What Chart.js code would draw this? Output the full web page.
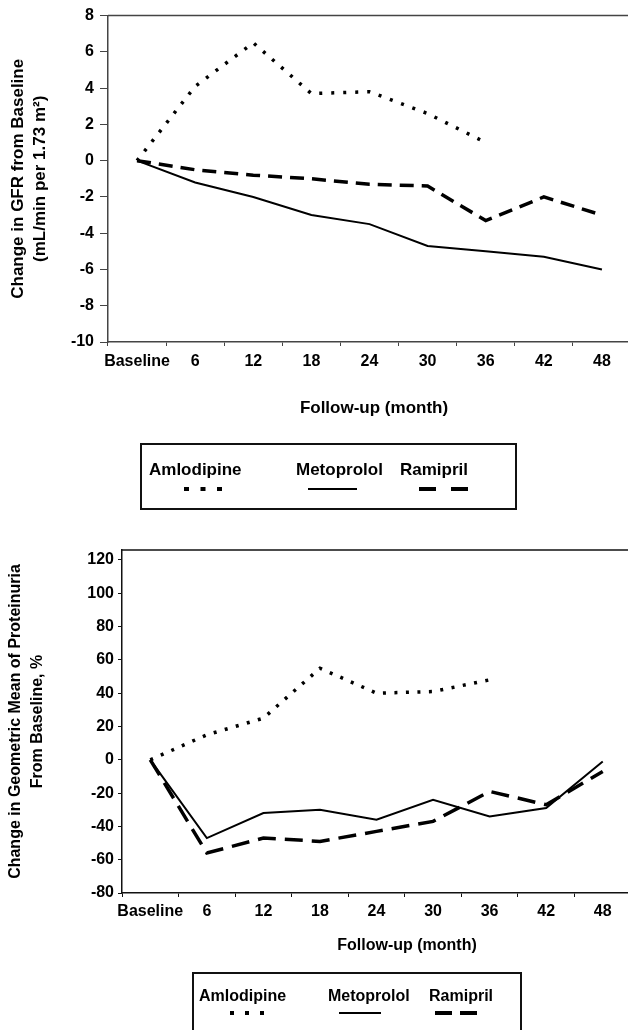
<!DOCTYPE html>
<html>
<head>
<meta charset="utf-8">
<script src="https://cdn.jsdelivr.net/npm/chart.js@4/dist/chart.umd.min.js"></script>
<style>
	html, body { margin: 0; overflow: hidden; }
	body { width: 628px; height: 1030px; position: relative; background: #fff; font-family: "Liberation Sans", Arial, sans-serif; font-weight: bold; color: #000; }
	.wrap { position: absolute; left: 0; }
	.xtitle { position: absolute; transform: translate(-50%, -50%); white-space: nowrap; }
	.box { position: absolute; border: 2px solid #111; box-sizing: border-box; }
	.lg { position: absolute; white-space: nowrap; line-height: 20px; }
	svg { position: absolute; left: 0; top: 0; }
</style>
</head>
<body>
<div class="wrap" style="top:0"><canvas id="gfr" width="640" height="430"></canvas></div>
<div class="xtitle" style="left:374px; top:408px; font-size:17px">Follow-up (month)</div>
<div class="box" style="left:140px; top:443px; width:377px; height:67px"></div>

<div class="wrap" style="top:530px"><canvas id="prot" width="640" height="440"></canvas></div>
<div class="xtitle" style="left:407px; top:945px; font-size:16px">Follow-up (month)</div>
<div class="box" style="left:192px; top:972px; width:330px; height:80px"></div>

<svg width="628" height="1030">
	<!-- legend samples, top figure -->
	<line x1="184" y1="489" x2="222" y2="489" stroke="#000" stroke-width="4" stroke-dasharray="5 11.5"/>
	<line x1="308" y1="489" x2="357" y2="489" stroke="#000" stroke-width="2"/>
	<line x1="419" y1="489" x2="468" y2="489" stroke="#000" stroke-width="4" stroke-dasharray="17 15"/>
	<!-- legend samples, bottom figure -->
	<line x1="230" y1="1013" x2="264" y2="1013" stroke="#000" stroke-width="4" stroke-dasharray="4 11"/>
	<line x1="339" y1="1013" x2="381" y2="1013" stroke="#000" stroke-width="2"/>
	<line x1="435" y1="1013" x2="477" y2="1013" stroke="#000" stroke-width="4" stroke-dasharray="17 8"/>
</svg>

<script>
document.addEventListener('DOMContentLoaded', function () {

	'use strict';

	const months = ['Baseline', '6', '12', '18', '24', '30', '36', '42', '48'];
	const seriesNames = ['Amlodipine', 'Metoprolol', 'Ramipril'];

	// change in GFR, mL/min per 1.73 m2
	const gfrAmlodipine = [0, 4.1, 6.5, 3.7, 3.8, 2.6, 1.0, null, null];
	const gfrMetoprolol = [0, -1.2, -2.0, -3.0, -3.5, -4.7, -5.0, -5.3, -6.0];
	const gfrRamipril = [0, -0.5, -0.8, -1.0, -1.3, -1.4, -3.3, -2.0, -3.0];
	const gfrTicks = [-10, -8, -6, -4, -2, 0, 2, 4, 6, 8];

	// change in geometric mean of proteinuria, %
	const protAmlodipine = [0, 15, 25, 55, 40, 41, 48, null, null];
	const protMetoprolol = [0, -47, -32, -30, -36, -24, -34, -29, -1];
	const protRamipril = [0, -56, -47, -49, -43, -37, -19, -27, -7];
	const protTicks = [-80, -60, -40, -20, 0, 20, 40, 60, 80, 100, 120];

	Chart.defaults.font.family = '"Liberation Sans", Arial, sans-serif';
	Chart.defaults.color = '#000';

	// top frame line of the plot, runs off the right edge
	const topLine = {
		id: 'topLine',
		afterDraw: function (chart, args, opts) {
			const ctx = chart.ctx;
			const a = chart.chartArea;
			ctx.save();
			ctx.strokeStyle = opts.color;
			ctx.lineWidth = 1.5;
			ctx.beginPath();
			ctx.moveTo(a.left, a.top);
			ctx.lineTo(chart.width, a.top);
			ctx.stroke();
			ctx.restore();
		}
	};

	function drawChart(id, series, yTicks, yMax, yTitle, look) {
		return new Chart(document.getElementById(id), {
			type: 'line',
			data: {
				labels: months,
				datasets: [
					{ label: seriesNames[0], data: series[0], borderColor: '#000', borderWidth: 3.5, borderDash: look.dots, borderCapStyle: 'butt', pointRadius: 0, tension: 0 },
					{ label: seriesNames[1], data: series[1], borderColor: '#000', borderWidth: 2, pointRadius: 0, tension: 0 },
					{ label: seriesNames[2], data: series[2], borderColor: '#000', borderWidth: 3.5, borderDash: look.dash, borderCapStyle: 'butt', pointRadius: 0, tension: 0 }
				]
			},
			options: {
				responsive: false,
				animation: false,
				devicePixelRatio: 1,
				layout: { padding: { left: 0, right: 9, top: look.top, bottom: 0 } },
				plugins: {
					legend: { display: false },
					tooltip: { enabled: false },
					topLine: { color: look.frame }
				},
				scales: {
					x: {
						offset: true,
						grid: { offset: true, drawOnChartArea: false, tickLength: 4, color: look.frame },
						border: { color: look.frame, width: 1.5 },
						ticks: { padding: look.xPad, maxRotation: 0, autoSkip: false, font: { size: 16, weight: 'bold' } },
						afterFit: function (s) { s.height = look.xH; }
					},
					y: {
						min: yTicks[0],
						max: yMax,
						afterBuildTicks: function (s) { s.ticks = yTicks.map(function (v) { return { value: v }; }); },
						grid: { drawOnChartArea: false, tickLength: look.tickLen, color: look.frame },
						border: { color: look.frame, width: 1.5 },
						ticks: { padding: look.yPad, font: { size: 16, weight: 'bold' } },
						title: {
							display: true,
							text: yTitle,
							font: { size: look.titleSize, weight: 'bold', lineHeight: look.titleLh },
							padding: { top: look.titlePad, bottom: 0 }
						},
						afterFit: function (s) { s.width = look.yW; }
					}
				}
			},
			plugins: [topLine]
		});
	}

	drawChart('gfr', [gfrAmlodipine, gfrMetoprolol, gfrRamipril], gfrTicks, 8,
		['Change in GFR from Baseline', '(mL/min per 1.73 m\u00B2)'],
		{ top: 13, xH: 88, yW: 108, xPad: 6, yPad: 6, tickLen: 8, titleSize: 17, titleLh: 1.3, titlePad: 7,
			dots: [3, 9], dash: [14, 8], frame: '#444' });

	drawChart('prot', [protAmlodipine, protMetoprolol, protRamipril], protTicks, 126,
		['Change in Geometric Mean of Proteinuria', 'From Baseline, %'],
		{ top: 20, xH: 77, yW: 122, xPad: 5, yPad: 4, tickLen: 4, titleSize: 16, titleLh: 1.375, titlePad: 5,
			dots: [3, 8.5], dash: [18, 9], frame: '#111' });

	// legend names above the line samples
	const legendRows = [
		{ lefts: [149, 296, 400], top: 460, size: 17 },
		{ lefts: [199, 328, 429], top: 986, size: 16 }
	];
	legendRows.forEach(function (row) {
		seriesNames.forEach(function (name, i) {
			const d = document.createElement('div');
			d.className = 'lg';
			d.textContent = name;
			d.style.left = row.lefts[i] + 'px';
			d.style.top = row.top + 'px';
			d.style.fontSize = row.size + 'px';
			document.body.appendChild(d);
		});
	});
});
</script>
</body>
</html>
